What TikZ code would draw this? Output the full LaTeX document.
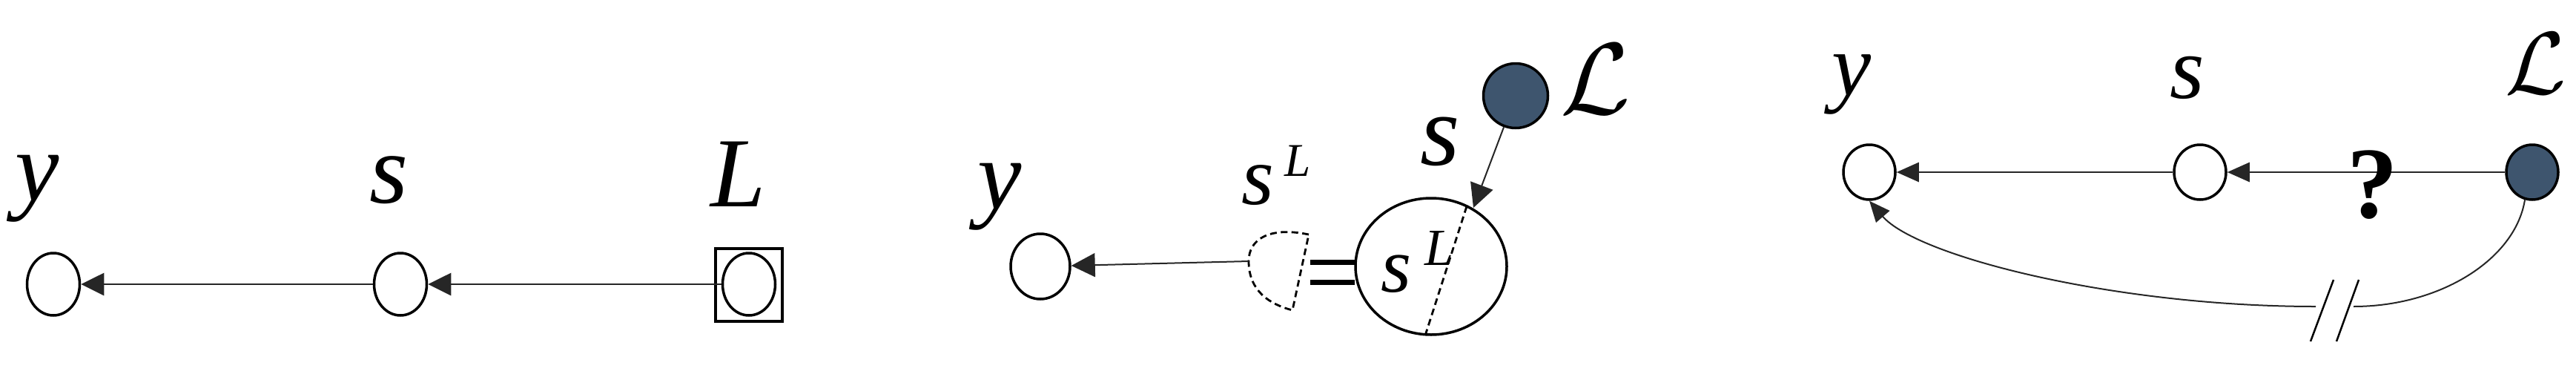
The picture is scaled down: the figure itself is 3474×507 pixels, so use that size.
\documentclass[tikz,border=0pt]{standalone}
\usepackage{fontspec}
\setmainfont{Liberation Serif}
\usetikzlibrary{shapes.geometric,arrows.meta}
\definecolor{navy}{HTML}{3E556E}
\begin{document}
\begin{tikzpicture}[x=0.1mm,y=-0.1mm,
  vnode/.style={ellipse,draw,line width=0.35mm,inner sep=0pt,minimum width=7.1mm,minimum height=8.4mm},
  fnode/.style={vnode,fill=navy},
  lbl/.style={inner sep=0pt,anchor=base,font=\fontsize{38}{40}\selectfont\itshape},
  arrA/.style={-{Triangle[length=3.1mm,width=3mm]},line width=0.28mm,draw=black!85},
  arrB/.style={-{Triangle[length=3.2mm,width=3.2mm]},line width=0.2mm,draw=black!85},
  arrC/.style={-{Triangle[length=3mm,width=2.6mm]},line width=0.28mm,draw=black!85},
  dsh/.style={line width=0.28mm,dash pattern=on 0.9mm off 0.55mm},
  thinc/.style={line width=0.2mm,draw=black!85}]
\useasboundingbox (0,0) rectangle (3474,507);

% ---------- panel 1 ----------
\node[vnode] (y1) at (72,383) {};
\node[vnode] (s1) at (540,383) {};
\node[vnode] (L1) at (1010,383) {};
\node[draw,line width=0.35mm,minimum width=9mm,minimum height=9.8mm,inner sep=0pt] (B1) at (1010,384) {};
\draw[arrA] (L1.west) -- (s1.east);
\draw[arrA] (s1.west) -- (y1.east);
\node[lbl] (ty1) at (50,270) {y};
\node[lbl] (ts1) at (524,273) {s};
\node[lbl] (tL1) at (996,278) {L};

% ---------- panel 2 ----------
\node[vnode,minimum width=8mm,minimum height=8.8mm] (y2) at (1403,359) {};
\node[ellipse,draw,line width=0.35mm,minimum width=20.4mm,minimum height=18.4mm,inner sep=0pt] (big) at (1930,359) {};
\node[circle,draw,fill=navy,line width=0.35mm,minimum size=8.7mm,inner sep=0pt] (Lc2) at (2044,129) {};
\coordinate (dt) at (1765,316);
\coordinate (db) at (1743,418);
\coordinate (dl) at (1684,352);
\draw[dsh] (dt) .. controls (1712,305) and (1684,322) .. (dl)
  .. controls (1684,392) and (1712,410) .. (db) -- cycle;
\draw[arrB] (dl) -- (y2);
\coordinate (b1a) at (1767,353); \coordinate (b1b) at (1827,353);
\coordinate (b2a) at (1767,380); \coordinate (b2b) at (1827,380);
\draw[line width=0.7mm] (b1a) -- (b1b);
\draw[line width=0.7mm] (b2a) -- (b2b);
\coordinate (ct) at (1978,278);
\coordinate (cb) at (1922,452);
\draw[dsh] (ct) -- (cb);
\coordinate (ktop) at (1987,280);
\draw[arrB] (Lc2) -- (ktop);
\node[lbl] (ty2) at (1348,281) {y};
\node[lbl,font=\fontsize{39}{40}\selectfont\itshape] (ts2) at (1942,222) {s};
\node[inner sep=0pt,anchor=base west,font=\fontsize{32}{34}\selectfont\itshape] (tsl) at (1674,275)
  {s\hspace{4pt}\raisebox{10.8pt}{\fontsize{18}{20}\selectfont L}};
\node[inner sep=0pt,anchor=base west,font=\fontsize{30}{32}\selectfont\itshape] (tsl2) at (1862,393)
  {s\hspace{5pt}\raisebox{10.2pt}{\fontsize{20}{22}\selectfont L}};
\node[inner sep=0pt] (tcl2) at (2152,107) {\scalebox{3.9}{$\mathcal{L}$}};

% ---------- panel 3 ----------
\node[vnode,minimum width=7mm,minimum height=7.4mm] (y3) at (2521,232) {};
\node[vnode,minimum width=7mm,minimum height=7.4mm] (s3) at (2967,232) {};
\node[fnode,minimum width=7mm,minimum height=7.4mm] (Lc3) at (3415,232) {};
\draw[arrC] (Lc3.west) -- (s3.east);
\draw[arrC] (s3.west) -- (y3.east);
\node[inner sep=0pt,font=\fontsize{39}{40}\selectfont\bfseries] (q) at (3200,249) {?};
\coordinate (c3a) at (3174,413);
\coordinate (c3b) at (3123,413);
\draw[thinc] (Lc3.255) .. controls (3392,350) and (3290,413) .. (c3a);
\draw[thinc,-{Triangle[length=2.8mm,width=2.4mm]}] (c3b) .. controls (2850,413) and (2585,345) .. (y3.south);
\coordinate (k1a) at (3147,377); \coordinate (k1b) at (3116,460);
\coordinate (k2a) at (3181,377); \coordinate (k2b) at (3151,460);
\draw[line width=0.25mm] (k1a) -- (k1b);
\draw[line width=0.25mm] (k2a) -- (k2b);
\node[lbl,font=\fontsize{34}{36}\selectfont\itshape] (ty3) at (2497,128) {y};
\node[lbl,font=\fontsize{34}{36}\selectfont\itshape] (ts3) at (2950,132) {s};
\node[inner sep=0pt] (tcl3) at (3420,86) {\scalebox{3.4}{$\mathcal{L}$}};
\end{tikzpicture}
\end{document}
